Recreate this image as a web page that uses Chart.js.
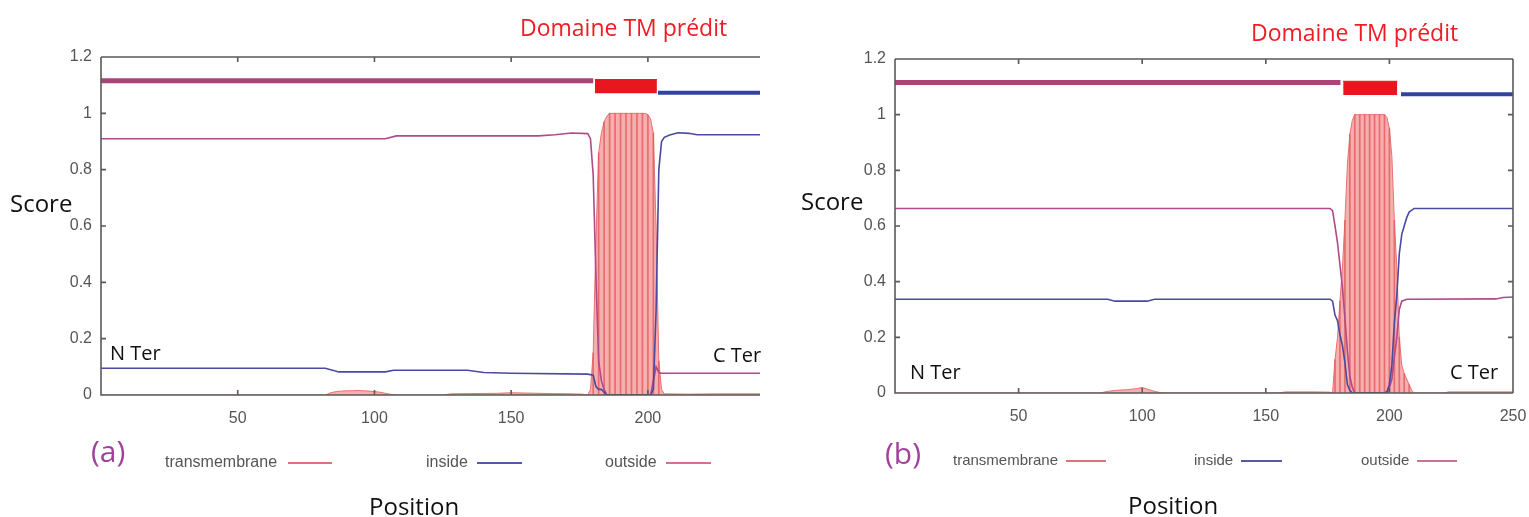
<!DOCTYPE html>
<html>
<head>
<meta charset="utf-8">
<script src="https://cdn.jsdelivr.net/npm/chart.js@4.4.1/dist/chart.umd.min.js"></script>
<style>
  body { margin: 0; background: #fff; width: 1529px; height: 517px; overflow: hidden; position: relative; font-family: 'Open Sans', sans-serif; }
  canvas { position: absolute; top: 0; }
  .t { position: absolute; white-space: nowrap; line-height: 1; }
  .title { color: #ee1c25; font-size: 23px; }
  .axis { color: #111; font-size: 24px; }
  .term { color: #111; font-size: 20px; background: #fff; line-height: 24px; height: 24px; }
  .panel { color: #a0429b; font-size: 30px; }
  .leg { position: absolute; font-family: 'Liberation Sans', Arial, sans-serif; font-size: 16px; color: #555; line-height: 18px; white-space: nowrap; }
  .sw { position: absolute; height: 2px; }
</style>
</head>
<body>
<canvas id="chartA" width="760" height="517" style="left:0"></canvas>
<canvas id="chartB" width="759" height="517" style="left:770px"></canvas>

<div class="t title" style="left:520px;top:16px">Domaine TM prédit</div>
<div class="t title" style="left:1251px;top:21px">Domaine TM prédit</div>
<div class="t axis" style="left:10px;top:191px">Score</div>
<div class="t axis" style="left:801px;top:189px">Score</div>
<div class="t axis" style="left:369px;top:494px">Position</div>
<div class="t axis" style="left:1128px;top:493px">Position</div>
<div class="t term" style="left:103px;top:341px;padding:0 21px 0 7px">N Ter</div>
<div class="t term" style="left:708px;top:343px;padding:0 0 0 5px">C Ter</div>
<div class="t term" style="left:906px;top:360px;padding:0 4px">N Ter</div>
<div class="t term" style="left:1446px;top:360px;padding:0 4px">C Ter</div>
<div class="t panel" style="left:91px;top:436px">(a)</div>
<div class="t panel" style="left:885px;top:438px">(b)</div>

<div class="leg" style="left:165px;top:453px">transmembrane</div>
<div class="sw" style="left:288px;top:462px;width:44px;background:#e0707a"></div>
<div class="leg" style="left:426px;top:453px">inside</div>
<div class="sw" style="left:477px;top:462px;width:45px;background:#5858a8"></div>
<div class="leg" style="left:605px;top:453px">outside</div>
<div class="sw" style="left:666px;top:462px;width:45px;background:#d07098"></div>

<div class="leg" style="left:953px;top:451px;font-size:15px">transmembrane</div>
<div class="sw" style="left:1066px;top:460px;width:40px;background:#e0707a"></div>
<div class="leg" style="left:1194px;top:451px;font-size:15px">inside</div>
<div class="sw" style="left:1241px;top:460px;width:41px;background:#5858a8"></div>
<div class="leg" style="left:1361px;top:451px;font-size:15px">outside</div>
<div class="sw" style="left:1417px;top:460px;width:40px;background:#d07098"></div>

<script>
// ---- shared axis ticks ----
const yTicks = [0, 0.2, 0.4, 0.6, 0.8, 1, 1.2];
const yTickLabels = ['0', '0.2', '0.4', '0.6', '0.8', '1', '1.2'];
const xTicksA = [50, 100, 150, 200];
const xTicksB = [50, 100, 150, 200, 250];

// topology bar levels: outside line, TM box bottom, TM box top, inside line
const topoLevels = [1.116, 1.071, 1.12, 1.073];

// ---- panel (a) : [position, score] ----
const outsideA = [[0, 0.91], [104, 0.91], [108, 0.92], [160, 0.92], [166, 0.924], [172, 0.93], [178, 0.928],
  [179, 0.91], [180, 0.78], [181, 0.42], [182, 0.12], [183, 0.05], [184, 0.02], [185, 0],
  [201, 0], [202, 0.05], [203, 0.1], [204, 0.08], [205, 0.077], [241, 0.077]];
const insideA = [[0, 0.095], [82, 0.095], [87, 0.082], [104, 0.082], [107, 0.088], [134, 0.088], [140, 0.08],
  [150, 0.077], [178, 0.074], [180, 0.07], [181, 0.03], [182, 0.02], [183, 0.02], [184, 0.01], [185, 0],
  [201, 0], [202, 0.02], [203, 0.3], [204, 0.8], [205, 0.9], [206, 0.915], [208, 0.923], [211, 0.931],
  [215, 0.929], [218, 0.924], [241, 0.924]];
const tmA = [[0, 0], [82, 0], [84, 0.008], [86, 0.012], [88, 0.014], [90, 0.015], [92, 0.015], [94, 0.016],
  [96, 0.015], [98, 0.014], [100, 0.012], [102, 0.01], [104, 0.006], [106, 0.002], [108, 0],
  [125, 0], [128, 0.004], [135, 0.005], [145, 0.006], [150, 0.008], [155, 0.007], [165, 0.005], [172, 0.004], [176, 0.003],
  [178, 0], [179, 0.02], [180, 0.15], [181, 0.55], [182, 0.86], [183, 0.93], [184, 0.97], [185, 0.99],
  [186, 1], [187, 1], [188, 1], [189, 1], [190, 1], [191, 1], [192, 1], [193, 1], [194, 1], [195, 1],
  [196, 1], [197, 1], [198, 1], [199, 1], [200, 0.995], [201, 0.98], [202, 0.93], [203, 0.6], [204, 0.12],
  [205, 0.02], [206, 0.004], [215, 0.003], [225, 0.004], [241, 0.004]];
const topoOutA = [0, 180];
const topoTmA = [180.6, 203.3];
const topoInA = [203.7, 241];

// ---- panel (b) ----
const outsideB = [[0, 0.663], [176, 0.663], [177, 0.655], [178, 0.6], [179, 0.54], [180, 0.46], [181, 0.38],
  [182, 0.27], [183, 0.15], [184, 0.06], [185, 0.02], [186, 0], [199, 0], [200, 0.02], [201, 0.05],
  [202, 0.13], [203, 0.2], [204, 0.3], [205, 0.33], [207, 0.337], [243, 0.338], [246, 0.343], [250, 0.345]];
const insideB = [[0, 0.337], [86, 0.337], [89, 0.33], [102, 0.33], [105, 0.337], [176, 0.337], [177, 0.33],
  [178, 0.28], [179, 0.26], [180, 0.21], [181, 0.17], [182, 0.11], [183, 0.03], [184, 0.01], [185, 0],
  [198, 0], [199, 0.005], [200, 0.03], [201, 0.1], [202, 0.25], [203, 0.35], [204, 0.5], [205, 0.57],
  [206, 0.6], [207, 0.63], [208, 0.65], [210, 0.663], [250, 0.663]];
const tmB = [[0, 0], [83, 0], [86, 0.006], [90, 0.01], [94, 0.012], [98, 0.016], [100, 0.02], [102, 0.014],
  [105, 0.006], [108, 0], [155, 0], [158, 0.004], [170, 0.004], [176, 0.003], [177, 0], [178, 0.12],
  [179, 0.2], [180, 0.33], [181, 0.45], [182, 0.62], [183, 0.82], [184, 0.93], [185, 0.98],
  [186, 1], [187, 1], [188, 1], [189, 1], [190, 1], [191, 1], [192, 1], [193, 1], [194, 1], [195, 1],
  [196, 1], [197, 1], [198, 1], [199, 0.99], [200, 0.95], [201, 0.85], [202, 0.62], [203, 0.45],
  [204, 0.2], [205, 0.1], [206, 0.07], [207, 0.05], [208, 0.03], [209, 0.01], [210, 0],
  [222, 0], [224, 0.004], [240, 0.004], [250, 0.004]];
const topoOutB = [0, 180.2];
const topoTmB = [181.3, 203.2];
const topoInB = [204.7, 250];

const INSIDE_COLOR = '#4a4aa0';
const OUTSIDE_COLOR = '#b04a88';

function pts(arr) {
  return arr.map(p => ({ x: p[0], y: p[1] }));
}
function segment(range, y) {
  return [{ x: range[0], y: y }, { x: range[1], y: y }];
}

// box + inward tick marks, gnuplot style
const framePlugin = {
  id: 'frame',
  afterDatasetsDraw(chart, args, opts) {
    const { ctx, chartArea: a, scales: { x, y } } = chart;
    ctx.save();
    ctx.strokeStyle = '#5a5a5a';
    ctx.lineWidth = 1.6;
    ctx.beginPath();
    ctx.moveTo(a.left, a.top); ctx.lineTo(a.left, a.bottom); ctx.lineTo(a.right, a.bottom);
    ctx.moveTo(a.left, a.top); ctx.lineTo(a.right, a.top);
    if (opts.right) { ctx.moveTo(a.right, a.top); ctx.lineTo(a.right, a.bottom); }
    x.ticks.forEach(t => {
      const px = x.getPixelForValue(t.value);
      ctx.moveTo(px, a.bottom); ctx.lineTo(px, a.bottom - 5);
      ctx.moveTo(px, a.top); ctx.lineTo(px, a.top + 5);
    });
    y.ticks.forEach(t => {
      const py = y.getPixelForValue(t.value);
      ctx.moveTo(a.left, py); ctx.lineTo(a.left + 5, py);
      if (opts.right) { ctx.moveTo(a.right, py); ctx.lineTo(a.right - 5, py); }
    });
    ctx.stroke();
    ctx.restore();
  }
};

function makeChart(canvasId, p) {
  const stripes = p.tm.filter(d => d[1] > 0.02 && d[0] % 2 === 0);
  return new Chart(document.getElementById(canvasId), {
    type: 'line',
    data: {
      datasets: [
        { label: 'inside', data: pts(p.inside), borderColor: INSIDE_COLOR, borderWidth: 1.6, order: 0 },
        { label: 'outside', data: pts(p.outside), borderColor: OUTSIDE_COLOR, borderWidth: 1.6, order: 0 },
        { type: 'bar', label: 'tm-stripes', data: pts(stripes), backgroundColor: 'rgba(225,85,90,0.75)',
          barThickness: 1, order: 1 },
        { label: 'transmembrane', data: pts(p.tm), borderColor: '#e87272', backgroundColor: '#f7aeae',
          fill: 'origin', borderWidth: 1, order: 2 },
        { label: 'topo-outside', data: segment(p.topoOut, topoLevels[0]), borderColor: '#ab4577',
          borderWidth: 5, borderCapStyle: 'butt', order: 0 },
        { label: 'topo-tm', data: segment(p.topoTm, topoLevels[2]), borderColor: '#e8161e',
          backgroundColor: '#e8161e', fill: { value: topoLevels[1] }, borderWidth: 1, order: 0 },
        { label: 'topo-inside', data: segment(p.topoIn, topoLevels[3]), borderColor: '#3242a2',
          borderWidth: 4, borderCapStyle: 'butt', order: 0 }
      ]
    },
    options: {
      responsive: false,
      animation: false,
      events: [],
      layout: { padding: p.pad },
      elements: { point: { radius: 0 }, line: { tension: 0 } },
      plugins: { legend: { display: false }, tooltip: { enabled: false }, frame: { right: p.frameRight } },
      scales: {
        x: {
          type: 'linear', min: 0, max: p.xMax, offset: false,
          grid: { display: false, drawTicks: false }, border: { display: false },
          afterBuildTicks: s => { s.ticks = p.xTicks.map(v => ({ value: v })); },
          afterFit: s => { s.height = 30; s.paddingLeft = 0; s.paddingRight = 0; },
          ticks: { padding: 14, color: '#555', autoSkip: false, maxRotation: 0,
            font: { family: 'Liberation Sans', size: 16 } }
        },
        y: {
          type: 'linear', min: 0, max: 1.2,
          grid: { display: false, drawTicks: false }, border: { display: false },
          afterBuildTicks: s => { s.ticks = yTicks.map(v => ({ value: v })); },
          afterFit: s => { s.width = 40; s.paddingTop = 0; s.paddingBottom = 0; },
          ticks: { padding: 9, color: '#555', callback: (v, i) => yTickLabels[i],
            font: { family: 'Liberation Sans', size: 16 } }
        }
      }
    },
    plugins: [framePlugin]
  });
}

makeChart('chartA', {
  inside: insideA, outside: outsideA, tm: tmA,
  topoOut: topoOutA, topoTm: topoTmA, topoIn: topoInA,
  xTicks: xTicksA, xMax: 241, frameRight: false,
  pad: { left: 61, top: 57, right: 0, bottom: 92 }
});
makeChart('chartB', {
  inside: insideB, outside: outsideB, tm: tmB,
  topoOut: topoOutB, topoTm: topoTmB, topoIn: topoInB,
  xTicks: xTicksB, xMax: 250, frameRight: true,
  pad: { left: 85, top: 59, right: 16, bottom: 94 }
});
</script>
</body>
</html>
